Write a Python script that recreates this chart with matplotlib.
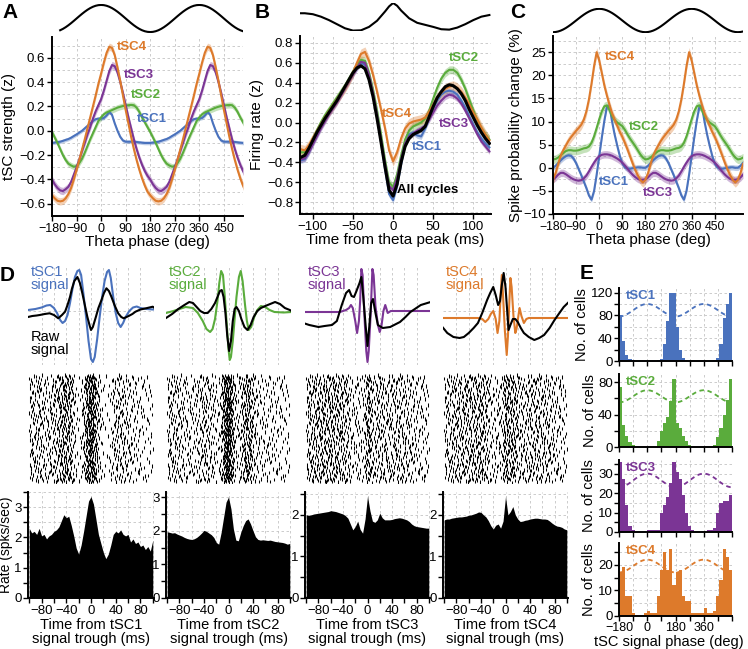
import numpy as np
import matplotlib.pyplot as plt
from matplotlib.ticker import MultipleLocator

plt.rcParams['font.family'] = ['Liberation Sans', 'DejaVu Sans']

W, H = 748, 649

names = ['tSC1', 'tSC2', 'tSC3', 'tSC4']
colors = {'tSC1': '#4a72bd', 'tSC2': '#5aac3c', 'tSC3': '#7b3595', 'tSC4': '#dd7a2b'}

# reference theta cycle (cosine), 10 deg steps from -180 to 170
theta_cycle = [-1, -0.985, -0.940, -0.866, -0.766, -0.643, -0.5, -0.342, -0.174, 0, 0.174,
               0.342, 0.5, 0.643, 0.766, 0.866, 0.940, 0.985, 1, 0.985, 0.940, 0.866, 0.766,
               0.643, 0.5, 0.342, 0.174, 0, -0.174, -0.342, -0.5, -0.643, -0.766, -0.866,
               -0.940, -0.985]
phase10 = np.arange(-180, 561, 10)

# ---- panel A: tSC strength per theta phase (one cycle, 10 deg steps) ----
a_tsc1 = [-0.10, -0.097, -0.093, -0.09, -0.083, -0.075, -0.068, -0.057, -0.043, -0.03, -0.015,
          0.0, 0.02, 0.04, 0.06, 0.08, 0.095, 0.10, 0.10, 0.105, 0.125, 0.155, 0.13, 0.06, 0.0,
          -0.05, -0.08, -0.09, -0.09, -0.09, -0.09, -0.092, -0.095, -0.098, -0.10, -0.10]
a_tsc2 = [-0.01, -0.055, -0.10, -0.15, -0.20, -0.24, -0.27, -0.285, -0.295, -0.29, -0.265,
          -0.23, -0.18, -0.125, -0.07, -0.02, 0.03, 0.08, 0.11, 0.135, 0.15, 0.16, 0.17, 0.18,
          0.19, 0.197, 0.203, 0.207, 0.21, 0.212, 0.21, 0.19, 0.155, 0.11, 0.07, 0.03]
a_tsc3 = [-0.40, -0.44, -0.47, -0.49, -0.495, -0.48, -0.46, -0.42, -0.36, -0.30, -0.235,
          -0.165, -0.10, -0.03, 0.03, 0.10, 0.16, 0.21, 0.26, 0.33, 0.41, 0.49, 0.54, 0.53,
          0.48, 0.40, 0.31, 0.21, 0.11, 0.02, -0.07, -0.15, -0.22, -0.28, -0.33, -0.37]
a_tsc4 = [-0.53, -0.555, -0.575, -0.58, -0.575, -0.555, -0.52, -0.47, -0.40, -0.32, -0.24,
          -0.155, -0.07, 0.02, 0.11, 0.20, 0.29, 0.385, 0.47, 0.56, 0.64, 0.69, 0.68, 0.62,
          0.52, 0.41, 0.29, 0.17, 0.06, -0.05, -0.15, -0.24, -0.32, -0.39, -0.45, -0.50]
a_err = [0.015, 0.025, 0.03, 0.03]

# ---- panel B: firing rate around theta peak ----
b_time = np.arange(-120, 121, 5)
b_all = [-0.32, -0.35, -0.33, -0.26, -0.18, -0.10, -0.03, 0.04, 0.10, 0.16, 0.22, 0.29, 0.36,
         0.43, 0.50, 0.55, 0.57, 0.54, 0.43, 0.26, 0.04, -0.20, -0.45, -0.68, -0.74, -0.62,
         -0.40, -0.24, -0.16, -0.12, -0.10, -0.08, -0.04, 0.06, 0.16, 0.25, 0.31, 0.36, 0.38,
         0.37, 0.34, 0.29, 0.22, 0.13, 0.05, -0.03, -0.10, -0.16, -0.21]
b_tsc1 = [-0.34, -0.38, -0.37, -0.30, -0.21, -0.13, -0.05, 0.02, 0.09, 0.15, 0.21, 0.28, 0.35,
          0.42, 0.49, 0.55, 0.60, 0.58, 0.46, 0.28, 0.06, -0.20, -0.47, -0.72, -0.78, -0.64,
          -0.42, -0.22, -0.12, -0.10, -0.13, -0.14, -0.06, 0.04, 0.14, 0.22, 0.28, 0.31, 0.32,
          0.31, 0.28, 0.22, 0.15, 0.06, -0.02, -0.10, -0.16, -0.21, -0.25]
b_tsc2 = [-0.24, -0.30, -0.30, -0.24, -0.16, -0.08, 0.0, 0.07, 0.13, 0.19, 0.25, 0.31, 0.37,
          0.44, 0.51, 0.58, 0.63, 0.62, 0.50, 0.33, 0.12, -0.12, -0.38, -0.60, -0.65, -0.52,
          -0.33, -0.17, -0.08, -0.04, -0.02, 0.0, 0.04, 0.12, 0.24, 0.35, 0.44, 0.50, 0.53,
          0.53, 0.50, 0.43, 0.34, 0.23, 0.12, 0.02, -0.06, -0.12, -0.17]
b_tsc3 = [-0.34, -0.37, -0.36, -0.30, -0.22, -0.14, -0.06, 0.01, 0.08, 0.14, 0.20, 0.27, 0.34,
          0.41, 0.48, 0.55, 0.61, 0.60, 0.48, 0.30, 0.08, -0.17, -0.42, -0.64, -0.68, -0.56,
          -0.37, -0.21, -0.14, -0.11, -0.08, -0.06, -0.03, 0.03, 0.10, 0.17, 0.22, 0.26, 0.28,
          0.27, 0.24, 0.19, 0.12, 0.04, -0.04, -0.12, -0.19, -0.24, -0.29]
b_tsc4 = [-0.20, -0.27, -0.28, -0.23, -0.16, -0.09, -0.02, 0.05, 0.11, 0.17, 0.23, 0.29, 0.35,
          0.42, 0.50, 0.60, 0.69, 0.71, 0.62, 0.48, 0.31, 0.13, -0.06, -0.28, -0.39, -0.30,
          -0.16, -0.06, -0.01, 0.01, 0.02, 0.03, 0.05, 0.11, 0.18, 0.25, 0.30, 0.34, 0.36,
          0.37, 0.35, 0.31, 0.25, 0.18, 0.10, 0.03, -0.05, -0.12, -0.18]
b_err = [0.03, 0.04, 0.03, 0.05]
b_theta_t = [-120, -110, -100, -90, -80, -70, -60, -50, -40, -30, -20, -10, -5, 0, 5, 10, 20,
             30, 40, 50, 60, 70, 80, 90, 100, 110, 120]
b_theta_v = [0.25, 0.25, 0.18, 0.0, -0.25, -0.55, -0.85, -1.02, -1.0, -0.75, -0.3, 0.38, 0.75,
             1.0, 0.8, 0.45, -0.12, -0.45, -0.6, -0.75, -0.92, -0.95, -0.8, -0.55, -0.25, 0.0, 0.12]

# ---- panel C: spike probability change (one cycle, 10 deg steps) ----
c_tsc1 = [0.0, 0.4, 1.0, 1.6, 2.1, 2.5, 2.7, 2.6, 2.0, 1.0, -0.3, -1.6, -3.0, -4.4, -6.0, -6.9,
          -5.0, -1.5, 2.5, 6.5, 10.2, 13.2, 13.4, 10.0, 7.2, 4.8, 2.6, 0.9, 0.1, -0.2, -0.2,
          -0.1, 0.0, 0.1, 0.1, 0.0]
c_tsc2 = [1.8, 1.9, 2.2, 2.7, 3.2, 3.6, 3.8, 3.8, 3.7, 3.7, 3.8, 4.0, 4.2, 4.3, 4.6, 5.4, 6.8,
          8.6, 10.5, 12.2, 13.3, 13.5, 12.5, 11.2, 10.3, 9.8, 9.4, 9.0, 8.2, 7.2, 6.3, 5.5, 4.7,
          3.8, 2.9, 2.2]
c_tsc3 = [-2.5, -2.1, -1.5, -1.1, -1.1, -1.4, -1.8, -2.2, -2.5, -2.7, -2.8, -2.7, -2.3, -1.7,
          -0.8, 0.2, 1.1, 1.9, 2.5, 2.8, 2.9, 2.9, 2.8, 2.6, 2.3, 2.0, 1.6, 1.1, 0.5, -0.2, -0.9,
          -1.5, -2.0, -2.4, -2.6, -2.6]
c_tsc4 = [-2.6, -1.2, 0.8, 2.6, 3.8, 4.8, 5.8, 6.6, 7.3, 8.0, 8.6, 9.3, 10.4, 12.2, 14.8, 18.2,
          22.0, 25.0, 23.2, 20.5, 17.8, 15.6, 13.6, 11.8, 10.4, 9.1, 7.8, 6.7, 5.4, 4.0, 2.5,
          1.0, -0.4, -1.6, -2.6, -3.2]
c_err = [0.6, 0.9, 0.8, 1.0]

# ---- panel D: signal traces, PSTHs ----
d_t = np.arange(-100, 101, 4)
d_rate1 = [2.3, 2.15, 2.2, 2.1, 2.3, 2.05, 2.1, 1.95, 2.05, 2.1, 2.2, 2.25, 2.35, 2.55, 2.75,
           2.65, 2.7, 2.4, 2.05, 1.65, 1.45, 1.75, 2.2, 2.7, 3.2, 3.35, 3.1, 2.6, 2.1, 1.8, 1.5,
           1.3, 1.45, 1.75, 2.1, 2.2, 2.15, 2.25, 2.1, 2.05, 2.1, 1.85, 1.95, 1.8, 1.85, 1.7,
           1.75, 1.6, 1.7, 1.55, 1.9]
d_rate2 = [1.97, 1.95, 1.93, 1.94, 1.9, 1.87, 1.84, 1.8, 1.77, 1.75, 1.74, 1.76, 1.8, 1.86,
           1.93, 2.01, 1.98, 1.93, 1.88, 1.8, 1.65, 1.6, 1.95, 2.4, 2.85, 3.0, 2.65, 2.05, 1.72,
           1.7, 1.95, 2.15, 2.3, 2.35, 2.2, 2.0, 1.82, 1.74, 1.72, 1.73, 1.72, 1.71, 1.72, 1.7,
           1.68, 1.67, 1.66, 1.65, 1.63, 1.6, 1.62]
d_rate3 = [2.0, 1.99, 2.0, 2.02, 2.03, 2.04, 2.05, 2.06, 2.07, 2.08, 2.1, 2.09, 2.08, 2.06,
           2.04, 2.02, 1.98, 1.92, 1.78, 1.64, 1.72, 1.85, 1.65, 1.56, 1.9, 2.45, 2.1, 1.85,
           1.82, 1.88, 2.04, 1.93, 1.88, 1.88, 1.88, 1.89, 1.91, 1.92, 1.93, 1.92, 1.9, 1.88,
           1.84, 1.78, 1.74, 1.72, 1.71, 1.7, 1.69, 1.68, 1.68]
d_rate4 = [1.88, 1.9, 1.9, 1.92, 1.93, 1.94, 1.95, 1.95, 1.96, 1.97, 1.99, 2.0, 2.02, 2.04,
           2.07, 2.06, 2.0, 1.95, 1.86, 1.74, 1.66, 1.75, 1.78, 1.68, 1.85, 2.44, 2.0, 2.08,
           2.2, 2.0, 1.9, 1.84, 1.85, 1.87, 1.88, 1.9, 1.91, 1.92, 1.92, 1.91, 1.9, 1.9, 1.89,
           1.85, 1.8, 1.76, 1.73, 1.72, 1.7, 1.66, 1.64]
d_ymax = [3.5, 3.15, 2.55, 2.55]
d_yticks = [[0, 1, 2, 3], [0, 1, 2, 3], [0, 1, 2], [0, 1, 2]]

# tSC signal traces and raw signal (time ms, amplitude in arbitrary units)
sig1_t = [-102, -90, -80, -72, -66, -60, -55, -50, -46, -42, -38, -34, -30, -26, -22, -19, -16,
          -12, -8, -4, 0, 3, 6, 10, 14, 18, 22, 26, 29, 32, 36, 40, 44, 48, 52, 56, 62, 68, 74,
          80, 90, 100, 105]
sig1_v = [1, 2, 3.5, 5.5, 6, 3, -2, -9, -12, -10, -4, 8, 22, 34, 40, 41, 36, 16, -6, -30, -48,
          -51, -46, -28, -6, 14, 30, 39, 41, 33, 14, -2, -12, -16, -12, -6, 0, 3.5, 4.5, 3, 2,
          1.5, 1.5]
raw1_t = [-102, -95, -88, -83, -75, -67, -60, -53, -47, -42, -38, -34, -31, -27, -22, -18, -14,
          -10, -6, -2, 0, 3, 8, 12, 17, 21, 25, 29, 33, 38, 44, 49, 53, 61, 67, 72, 80, 89, 100,
          103, 106]
raw1_v = [-6, -5, -4.5, -4, -3, -2.3, -4, -7.3, -4, -0.7, 6, 14, 22, 30, 34, 28, 17.7, 6, -5.7,
          -15, -19, -16, -5.7, 3, 11, 18, 22.7, 20, 14.3, 6, -2.3, -6, -7.3, -5, -3, -0.7, 1.5,
          2.7, 4.3, 3, 1]
sig2_t = [-102, -90, -80, -70, -58, -50, -42, -36, -30, -26, -22, -18, -15, -12, -9, -6, -3, 0,
          2, 4, 7, 10, 13, 17, 20, 23, 27, 30, 33, 37, 42, 47, 53, 60, 67, 75, 90, 103]
sig2_v = [-2, 0, 2, 4, 3, -2, -10, -18, -21, -18, -8, 10, 28, 40, 36, 14, -12, -38, -49, -46,
          -30, -8, 14, 34, 40, 30, 6, -10, -19, -16, -6, 1, 5, 4, 1, -1, -1.5, -1]
raw2_t = [-102, -92, -82, -72, -64, -58, -52, -46, -40, -34, -28, -22, -18, -14, -11, -8, -5,
          -2, 1, 4, 7, 10, 13, 17, 21, 26, 31, 36, 41, 47, 53, 60, 68, 76, 84, 92, 100, 103]
raw2_v = [-7, -3, 2, 6, 9, 8, 4, 0, -2, -2, 2, 8, 14, 20, 21, 14, -2, -25, -40, -30, -10, 2, 4,
          0, -8, -16, -19, -14, -6, 0, 3, 5, 7, 9, 7, 3, 1, 0]
sig3_t = [-105, -45, -35, -30, -27, -24, -20, -17, -14, -12, -10, -8, -5, -2, 0, 2, 5, 8, 10,
          13, 17, 20, 23, 26, 29, 33, 38, 45, 103]
sig3_v = [-1, -1, 1, 3, 6, 3, -10, -22, -10, 10, 42, 36, -5, -40, -51, -40, -5, 42, 36, 5, -14,
          -21, -14, 0, 6, -2, 0, 0, 0]
raw3_t = [-105, -95, -80, -70, -58, -50, -42, -35, -30, -26, -22, -18, -13, -10, -7, -3, 0, 3,
          6, 9, 13, 17, 25, 37, 53, 62, 70, 87, 103]
raw3_v = [-12, -14, -16, -15, -14, -10, 6, 18, 21, 15, 14, 20, 28, 34, 15, -15, -35, -15, 8,
          12, -2, -14, -17, -16, -11, -6, -1, 6, 9]
sig4_t = [-103, -45, -38, -33, -28, -24, -20, -16, -13, -10, -8, -6, -4, -1, 2, 4, 6, 8, 10,
          13, 16, 18, 21, 23, 26, 30, 34, 38, 103]
sig4_v = [-7, -7, -8, -11, -8, -3, 0, -8, -22, -10, 15, 36, 15, -20, -44, -25, 5, 33, 24, -5,
          -22, -18, -5, 3, -5, -12, -8, -7, -7]
raw4_t = [-103, -95, -85, -75, -68, -60, -52, -45, -38, -30, -25, -20, -16, -12, -9, -6, -3, 0,
          3, 5, 8, 12, 16, 20, 25, 30, 38, 47, 55, 63, 72, 80, 88, 95, 105]
raw4_v = [-16, -22, -26, -27, -26, -22, -17, -12, -2, 11, 18, 24, 16, 6, 10, 26, 38, 24, -2,
          -19, -14, -8, -8, -11, -17, -22, -26, -29, -27, -24, -17, -9, -2, 4, 10]

# ---- panel E: histograms of preferred tSC phase (20 deg bins) ----
e_centers = np.arange(-170, 540, 20)
e_tsc1 = [80, 35, 10, 3, 1, 0, 0, 0, 0, 0, 0, 0, 1, 4, 30, 70, 120, 120, 60, 20, 6, 2, 0, 0,
          0, 0, 0, 0, 0, 0, 1, 5, 30, 75, 100, 120]
e_tsc2 = [74, 27, 13, 6, 2, 0, 0, 0, 0, 0, 0, 0, 7, 20, 29, 37, 57, 84, 29, 23, 13, 7, 2, 0,
          0, 0, 0, 0, 0, 0, 3, 12, 23, 40, 58, 84]
e_tsc3 = [36, 27, 14, 3, 1, 0, 0, 0, 0, 1, 1, 1, 1, 10, 14, 18, 25, 36, 31, 27, 19, 10, 3, 1,
          0, 0, 0, 0, 1, 1, 2, 10, 15, 16, 16, 19]
e_tsc4 = [17, 19, 8, 8, 1, 0.5, 0.5, 0.5, 1, 2, 1, 1, 8, 18, 25, 18, 26, 12, 17, 18, 8, 6, 6,
          1, 1, 1, 1, 3, 1, 1, 2, 8, 14, 26, 23, 18]
e_ymax = [128, 90, 37, 28.5]
e_yticks = [[0, 40, 80, 120], [0, 40, 80], [0, 10, 20, 30], [0, 10, 20]]
e_ref = [(78, 100), (55, 70), (23, 30), (17, 22)]


def rect(x0, y0, x1, y1):
    return [x0 / W, 1 - y1 / H, (x1 - x0) / W, (y1 - y0) / H]


def style(ax, minor=True):
    for s in ['top', 'right']:
        ax.spines[s].set_visible(False)
    for s in ['left', 'bottom']:
        ax.spines[s].set_linewidth(1.4)
    ax.tick_params(which='major', direction='out', length=3.5, width=1, labelsize=9.5, pad=1.5)
    ax.tick_params(which='minor', length=0)
    ax.grid(True, which='both' if minor else 'major', ls=(0, (3, 3)), lw=0.6, color='#c4c4c4')
    ax.set_axisbelow(True)


def tile(cycle, n):
    return np.tile(cycle, 4)[:n]


def halton(n, base):
    out = np.zeros(n)
    for i in range(n):
        f, r, k = 1.0, 0.0, i + 1
        while k > 0:
            f /= base
            r += f * (k % base)
            k //= base
        out[i] = r
    return out


fig = plt.figure(figsize=(W / 100, H / 100), dpi=100)
th = tile(theta_cycle, len(phase10))

# ---------------- A ----------------
ax = fig.add_axes(rect(52, 4, 243, 33))
keep = phase10 >= -150
ax.plot(phase10[keep], th[keep], color='k', lw=1.5)
ax.set_xlim(-180, 520)
ax.set_ylim(-1.07, 1.07)
ax.axis('off')

ax = fig.add_axes(rect(52, 37, 243, 216))
style(ax)
for name, cyc, err in zip(names, [a_tsc1, a_tsc2, a_tsc3, a_tsc4], a_err):
    y = tile(cyc, len(phase10))
    ax.fill_between(phase10, y - err, y + err, color=colors[name], alpha=0.35, lw=0)
    ax.plot(phase10, y, color=colors[name], lw=1.5)
ax.set_xlim(-180, 520)
ax.set_ylim(-0.7, 0.77)
ax.set_xticks([-180, -90, 0, 90, 180, 270, 360, 450])
ax.tick_params(axis='x', labelsize=9)
ax.set_yticks([-0.6, -0.4, -0.2, 0.0, 0.2, 0.4, 0.6])
ax.yaxis.set_minor_locator(MultipleLocator(0.1))
ax.set_xlabel('Theta phase (deg)', fontsize=11, labelpad=0)
ax.set_ylabel('tSC strength (z)', fontsize=11, labelpad=2)
for name, (x, y) in zip(names, [(130, 0.1), (108, 0.29), (82, 0.46), (56, 0.69)]):
    ax.text(x, y, name, color=colors[name], fontsize=9.5, fontweight='bold', va='center')

# ---------------- B ----------------
ax = fig.add_axes(rect(300, 3, 491, 31))
ax.plot(b_theta_t, b_theta_v, color='k', lw=1.5)
ax.set_xlim(-116, 122)
ax.set_ylim(-1.05, 1.0)
ax.axis('off')

ax = fig.add_axes(rect(300, 36, 491, 214))
style(ax)
for name, y, err in zip(names, [b_tsc1, b_tsc2, b_tsc3, b_tsc4], b_err):
    y = np.array(y)
    ax.fill_between(b_time, y - err, y + err, color=colors[name], alpha=0.35, lw=0)
    ax.plot(b_time, y, color=colors[name], lw=1.5)
y = np.array(b_all)
ax.fill_between(b_time, y - 0.015, y + 0.015, color='k', alpha=0.3, lw=0)
ax.plot(b_time, y, color='k', lw=2.2)
ax.set_xlim(-116, 122)
ax.set_ylim(-0.92, 0.87)
ax.set_xticks([-100, -50, 0, 50, 100])
ax.xaxis.set_minor_locator(MultipleLocator(25))
ax.set_yticks(np.round(np.arange(-0.8, 0.81, 0.2), 1))
ax.yaxis.set_minor_locator(MultipleLocator(0.1))
ax.set_xlabel('Time from theta peak (ms)', fontsize=11, labelpad=0)
ax.set_ylabel('Firing rate (z)', fontsize=11, labelpad=2)
for name, (x, y) in zip(names, [(24, -0.245), (70, 0.65), (57, -0.01), (-14, 0.09)]):
    ax.text(x, y, name, color=colors[name], fontsize=9.5, fontweight='bold', va='center')
ax.text(5, -0.68, 'All cycles', color='k', fontsize=9.5, fontweight='bold', va='center')

# ---------------- C ----------------
ax = fig.add_axes(rect(553, 8, 743, 33))
ax.plot(phase10, th, color='k', lw=1.5)
ax.set_xlim(-180, 560)
ax.set_ylim(-1.07, 1.07)
ax.axis('off')

ax = fig.add_axes(rect(553, 36, 743, 214))
style(ax)
for name, cyc, err in zip(names, [c_tsc1, c_tsc2, c_tsc3, c_tsc4], c_err):
    y = tile(cyc, len(phase10))
    ax.fill_between(phase10, y - err, y + err, color=colors[name], alpha=0.35, lw=0)
    ax.plot(phase10, y, color=colors[name], lw=1.5)
ax.set_xlim(-180, 560)
ax.set_ylim(-10, 28.5)
ax.set_xticks([-180, -90, 0, 90, 180, 270, 360, 450])
ax.tick_params(axis='x', labelsize=8.8)
ax.set_yticks([-10, -5, 0, 5, 10, 15, 20, 25])
ax.yaxis.set_minor_locator(MultipleLocator(2.5))
ax.set_xlabel('Theta phase (deg)', fontsize=11, labelpad=0)
ax.set_ylabel('Spike probability change (%)', fontsize=11, labelpad=0)
for name, (x, y) in zip(names, [(-3, -3.0), (116, 8.8), (170, -5.5), (23, 24.0)]):
    ax.text(x, y, name, color=colors[name], fontsize=9.5, fontweight='bold', va='center')

# ---------------- D ----------------
cols_x = [(28, 154), (166, 291), (305, 430), (443, 568)]
sig_t = [sig1_t, sig2_t, sig3_t, sig4_t]
sig_v = [sig1_v, sig2_v, sig3_v, sig4_v]
raw_t = [raw1_t, raw2_t, raw3_t, raw4_t]
raw_v = [raw1_v, raw2_v, raw3_v, raw4_v]
rates = [d_rate1, d_rate2, d_rate3, d_rate4]
n_spikes = 1100
u_seq = halton(n_spikes, 2)
v_seq = halton(n_spikes, 3)
for i, name in enumerate(names):
    x0, x1 = cols_x[i]
    # signal traces
    ax = fig.add_axes(rect(x0, 265, x1, 365))
    ax.plot(raw_t[i], raw_v[i], color='k', lw=1.5, zorder=3)
    ax.plot(sig_t[i], sig_v[i], color=colors[name], lw=1.5, zorder=2)
    ax.set_xlim(-102, 102)
    ax.set_ylim(-54, 46)
    ax.set_xticks(np.arange(-80, 81, 20))
    ax.set_yticks([0])
    ax.grid(True, ls=(0, (3, 3)), lw=0.6, color='#c4c4c4')
    ax.tick_params(length=0, labelbottom=False, labelleft=False)
    for s in ax.spines.values():
        s.set_visible(False)
    ax.text(0.02, 1.0, name + '\nsignal', transform=ax.transAxes, color=colors[name],
            fontsize=10.5, va='top', ha='left', linespacing=0.95)
    if i == 0:
        ax.text(0.02, 0.35, 'Raw\nsignal', transform=ax.transAxes, color='k',
                fontsize=10.5, va='top', ha='left', linespacing=0.95)

    # raster: spike times spread over trials following the PSTH profile
    ax = fig.add_axes(rect(x0, 373, x1, 484))
    r = np.array(rates[i])
    w = (r - 0.6 * r.min()) ** 2
    cdf = np.concatenate([[0], np.cumsum(w[1:] + w[:-1])])
    cdf = cdf / cdf[-1]
    ts = np.interp(u_seq, cdf, d_t)
    ax.vlines(ts, v_seq, v_seq + 0.032, color='k', lw=0.75)
    ax.set_xlim(-102, 102)
    ax.set_ylim(0, 1.032)
    ax.axis('off')

    # PSTH
    ax = fig.add_axes(rect(x0, 492, x1, 598))
    style(ax)
    ax.fill_between(d_t, 0, rates[i], color='k', lw=0)
    ax.set_xlim(-102, 102)
    ax.set_ylim(0, d_ymax[i])
    ax.set_xticks([-80, -40, 0, 40, 80])
    ax.xaxis.set_minor_locator(MultipleLocator(20))
    ax.tick_params(which='minor', length=3.5, width=1)
    ax.tick_params(axis='y', pad=1)
    ax.set_yticks(d_yticks[i])
    ax.yaxis.set_minor_locator(MultipleLocator(0.5))
    ax.set_xlabel('Time from ' + name + '\nsignal trough (ms)', fontsize=10.5, labelpad=1,
                  linespacing=0.95)
    if i == 0:
        ax.set_ylabel('Rate (spks/sec)', fontsize=10)
        ax.yaxis.set_label_coords(-15 / 126, 0.5)

# ---------------- E ----------------
rows_y = [(288, 361), (374, 447), (460, 532), (543, 616)]
counts = [e_tsc1, e_tsc2, e_tsc3, e_tsc4]
for i, name in enumerate(names):
    y0, y1 = rows_y[i]
    ax = fig.add_axes(rect(619, y0, 732, y1))
    style(ax)
    ax.bar(e_centers, counts[i], width=20, color=colors[name], lw=0)
    lo, hi = e_ref[i]
    ax.plot(phase10, lo + (hi - lo) * (th + 1) / 2, color=colors[name], lw=1.3,
            ls=(0, (2.5, 2)))
    ax.set_xlim(-180, 540)
    ax.set_ylim(0, e_ymax[i])
    ax.set_xticks([-180, 0, 180, 360])
    ax.xaxis.set_minor_locator(MultipleLocator(90))
    ax.tick_params(which='minor', length=3.5, width=1)
    ax.tick_params(axis='y', pad=1)
    ax.set_yticks(e_yticks[i])
    ax.yaxis.set_minor_locator(MultipleLocator(e_yticks[i][1] / 2))
    ax.set_ylabel('No. of cells', fontsize=10.5, labelpad=1)
    ax.text(0.06, 0.97, name, transform=ax.transAxes, color=colors[name], fontsize=9.5,
            fontweight='bold', va='top')
    if i < 3:
        ax.tick_params(labelbottom=False)
    else:
        ax.tick_params(axis='x', labelsize=9, pad=1)
fig.text(669 / W, 1 - 642 / H, 'tSC signal phase (deg)', fontsize=10.5, ha='center', va='center')

# panel letters
for letter, (x, y) in zip('ABCDE', [(2, 3), (255, 3), (510, 3), (0, 266), (580, 264)]):
    fig.text(x / W, 1 - y / H, letter, fontsize=15, fontweight='bold', va='top', ha='left')

fig.savefig('out.png', dpi=100)
